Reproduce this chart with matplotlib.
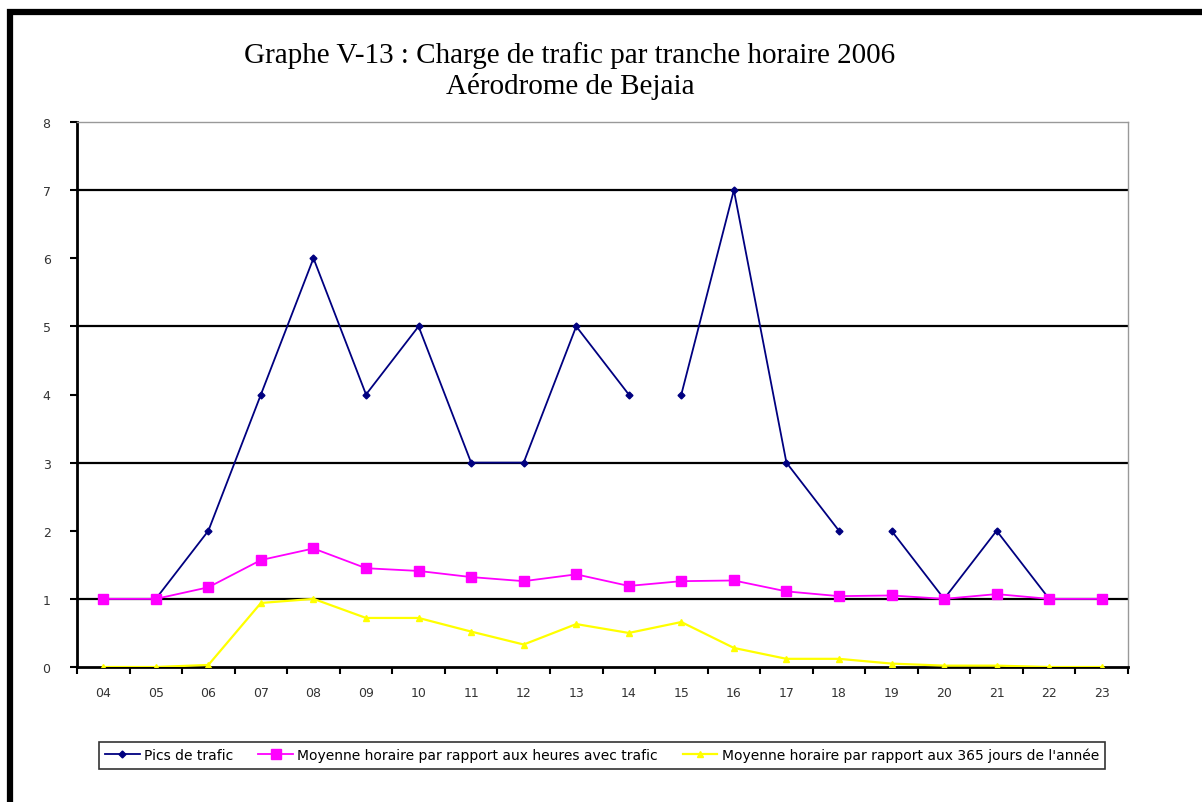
import numpy as np
import matplotlib
matplotlib.use("Agg")
import matplotlib.pyplot as plt
from matplotlib.patches import Rectangle

hours = ["04", "05", "06", "07", "08", "09", "10", "11", "12", "13",
         "14", "15", "16", "17", "18", "19", "20", "21", "22", "23"]
pic_trafic = [1, 1, 2, 4, 6, 4, 5, 3, 3, 5, 4, 4, 7, 3, 2, 2, 1, 2, 1, 1]
pic_breaks_after = ["14", "18"]   # no line drawn after these hours
moy_heures_trafic = [1.0, 1.0, 1.17, 1.57, 1.74, 1.45, 1.41, 1.32, 1.26, 1.36,
                     1.19, 1.26, 1.27, 1.11, 1.04, 1.05, 1.0, 1.07, 1.0, 1.0]
moy_365_jours = [0.0, 0.0, 0.03, 0.94, 1.0, 0.72, 0.72, 0.52, 0.33, 0.63,
                 0.5, 0.66, 0.28, 0.12, 0.12, 0.05, 0.02, 0.02, 0.0, 0.0]
yticks = [0, 1, 2, 3, 4, 5, 6, 7, 8]
grid_levels = [1, 3, 5, 7]

labels = ["Pics de trafic",
          "Moyenne horaire par rapport aux heures avec trafic",
          "Moyenne horaire par rapport aux 365 jours de l'année"]

W, H = 1202, 803
fig = plt.figure(figsize=(W / 100, H / 100), dpi=100)
fig.patch.set_facecolor("white")

# thick outer frame (top and left visible)
fig.patches.append(Rectangle((10 / W, -0.05), 1.2, (1 - 12.5 / H) + 0.05,
                             transform=fig.transFigure, fill=False,
                             edgecolor="black", linewidth=4.5, zorder=10))

ax = fig.add_axes([77 / W, 1 - 668 / H, (1128 - 77) / W, (668 - 123) / H])
x = np.arange(len(hours))

for g in grid_levels:
    ax.axhline(g, color="black", linewidth=1.6, zorder=1)

# Pics de trafic, split at breaks
segments = []
start = 0
for i, h in enumerate(hours):
    if h in pic_breaks_after or i == len(hours) - 1:
        segments.append((start, i + 1))
        start = i + 1
first = True
for s, e in segments:
    ax.plot(x[s:e], pic_trafic[s:e], color="#000080", linewidth=1.3,
            marker="D", markersize=3.5, zorder=3,
            label=labels[0] if first else None)
    first = False

ax.plot(x, moy_heures_trafic, color="#FF00FF", linewidth=1.3, marker="s",
        markersize=6.5, zorder=4, label=labels[1])
ax.plot(x, moy_365_jours, color="#FFFF00", linewidth=1.6, marker="^",
        markersize=5, zorder=4, label=labels[2])

ax.set_xlim(-0.5, len(hours) - 0.5)
ax.set_ylim(0, 8)
ax.set_yticks(yticks)
ax.set_yticklabels([str(v) for v in yticks], fontsize=9, color="#333333")
ax.set_xticks(x)
ax.set_xticklabels(hours, fontsize=9, color="#333333")
ax.set_xticks(np.arange(-0.5, len(hours), 1), minor=True)
ax.tick_params(axis="x", which="major", length=0, pad=14)
ax.tick_params(axis="x", which="minor", length=5, width=1.5, direction="out")
ax.tick_params(axis="y", length=5, width=1.5, direction="out", pad=14)

for side in ["left", "bottom"]:
    ax.spines[side].set_linewidth(2)
    ax.spines[side].set_color("black")
for side in ["right", "top"]:
    ax.spines[side].set_color("#999999")
    ax.spines[side].set_linewidth(1)

fig.text(570 / W, 1 - 56 / H,
         "Graphe V-13 : Charge de trafic par tranche horaire 2006",
         ha="center", va="center", fontsize=21, family="Liberation Serif")
fig.text(570 / W, 1 - 86 / H, "Aérodrome de Bejaia",
         ha="center", va="center", fontsize=21, family="Liberation Serif")

leg = fig.legend(loc="center", bbox_to_anchor=(602 / W, 1 - 756 / H),
                 ncol=3, fontsize=10, frameon=True, fancybox=False,
                 edgecolor="black", handlelength=2.5, handletextpad=0.3,
                 columnspacing=1.8, borderpad=0.45)
leg.get_frame().set_linewidth(1.2)

fig.savefig("out.png", dpi=100, facecolor="white")
